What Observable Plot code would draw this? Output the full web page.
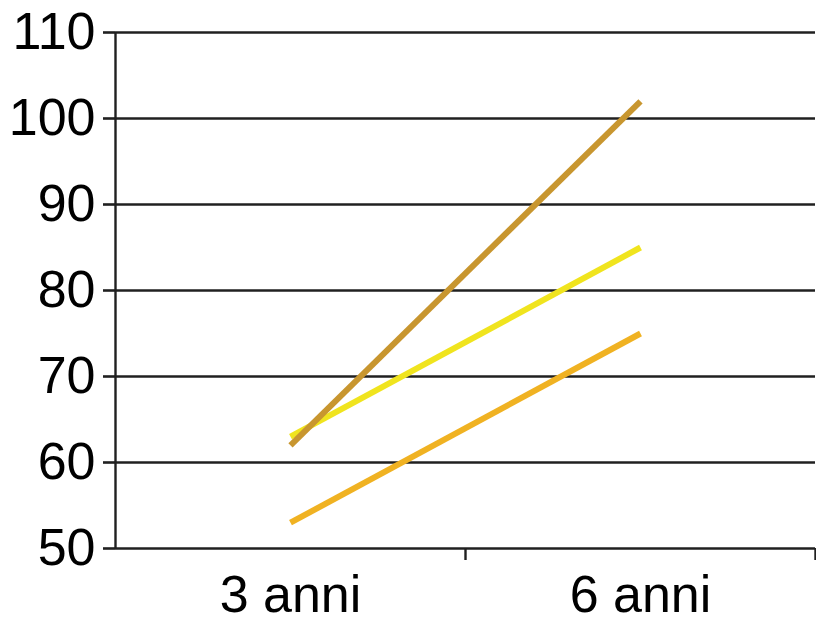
<!DOCTYPE html>
<html>
<head>
<meta charset="utf-8">
<script src="https://cdn.jsdelivr.net/npm/d3@7"></script>
<script src="https://cdn.jsdelivr.net/npm/@observablehq/plot@0.6"></script>
<style>
  html, body { margin: 0; padding: 0; background: #fff; }
  #chart { width: 816px; height: 618px; }
</style>
</head>
<body>
<div id="chart"></div>
<script>
const categories = ["3 anni", "6 anni"];
const seriesNames = ["marrone", "giallo", "arancio"];
const seriesBrown = [62, 102];
const seriesYellow = [63, 85];
const seriesOrange = [53, 75];
const yTicks = [50, 60, 70, 80, 90, 100, 110];
const colors = {marrone: "#c8962f", giallo: "#f0e41e", arancio: "#f0b222"};

const values = {marrone: seriesBrown, giallo: seriesYellow, arancio: seriesOrange};
const drawOrder = ["arancio", "giallo", "marrone"];
const data = [];
for (const s of drawOrder) {
  categories.forEach((c, i) => data.push({series: s, x: i + 0.5, y: values[s][i]}));
}
const font = "'Liberation Sans', Arial, sans-serif";
const ink = "#202020";

const chart = Plot.plot({
  width: 816,
  height: 618,
  marginLeft: 115,
  marginRight: 1,
  marginTop: 32,
  marginBottom: 70,
  style: {fontFamily: font, background: "#fff", overflow: "visible"},
  x: {domain: [0, categories.length], axis: null},
  y: {domain: [50, 110], axis: null},
  color: {domain: seriesNames, range: seriesNames.map(s => colors[s])},
  marks: [
    Plot.ruleY(yTicks, {stroke: ink, strokeWidth: 2.6, x1: 0, x2: categories.length}),
    Plot.axisY({ticks: yTicks, label: null, tickSize: 12, tickPadding: 8, fontSize: 52, stroke: ink, strokeWidth: 2.6, fill: "#000"}),
    Plot.ruleX([0], {y1: 50, y2: 110, stroke: ink, strokeWidth: 2.4}),
    Plot.axisX({ticks: [1, 2], label: null, tickSize: 12, tickFormat: () => "", stroke: ink, strokeWidth: 2.4}),
    Plot.axisX({ticks: categories.map((c, i) => i + 0.5), label: null, tickSize: 0, tickPadding: 27, fontSize: 52, fill: "#000",
      tickFormat: d => categories[Math.floor(d)]}),
    Plot.line(data, {x: "x", y: "y", z: "series", stroke: d => colors[d.series], strokeWidth: 6, strokeLinecap: "butt"})
  ]
});
document.getElementById("chart").appendChild(chart);
</script>
</body>
</html>
